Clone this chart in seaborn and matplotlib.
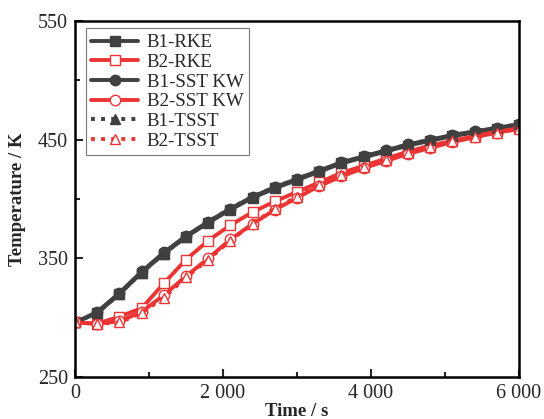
import numpy as np
import pandas as pd
import matplotlib
matplotlib.use('Agg')
import matplotlib.pyplot as plt
from matplotlib.ticker import FuncFormatter, MultipleLocator, FixedLocator
import seaborn as sns

# Data (every 300 s)
time_s = [0, 300, 600, 900, 1200, 1500, 1800, 2100, 2400, 2700, 3000,
          3300, 3600, 3900, 4200, 4500, 4800, 5100, 5400, 5700, 6000]
b1_rke = [296, 304, 320, 338, 354, 368, 380, 391, 401, 409, 416,
          423, 430, 435, 440, 445, 449, 453, 456, 459, 462]
b2_rke = [296, 295, 301, 308, 329, 349, 365, 378, 389, 398, 406,
          414, 422, 428, 434, 440, 445, 449, 453, 457, 460]
b1_sst = [296, 305, 321, 339, 355, 369, 381, 392, 402, 410, 417,
          424, 431, 436, 441, 446, 450, 454, 457, 460, 463]
b2_sst = [296, 295, 297, 305, 319, 335, 350, 366, 379, 391, 401,
          411, 419, 426, 432, 438, 443, 448, 452, 456, 459]
b1_tsst = [296, 304, 320, 338, 354, 368, 381, 392, 402, 410, 417,
           424, 430, 436, 441, 446, 450, 453, 457, 460, 463]
b2_tsst = [296, 295, 296, 304, 317, 334, 349, 365, 379, 392, 402,
           412, 420, 427, 433, 439, 444, 449, 452, 456, 459]

labels = ['B1-RKE', 'B2-RKE', 'B1-SST KW', 'B2-SST KW', 'B1-TSST', 'B2-TSST']
series = [b1_rke, b2_rke, b1_sst, b2_sst, b1_tsst, b2_tsst]

sns.set_style('ticks')
plt.rcParams['font.family'] = ['Liberation Serif', 'DejaVu Serif']

dark = '#404040'
red = '#ec3434'
styles = [
    dict(color=dark, marker='s', mfc=dark, ls='-'),
    dict(color=red, marker='s', mfc='white', ls='-'),
    dict(color=dark, marker='o', mfc=dark, ls='-'),
    dict(color=red, marker='o', mfc='white', ls='-'),
    dict(color=dark, marker='^', mfc=dark, ls=(0, (1, 1.6))),
    dict(color=red, marker='^', mfc='white', ls=(0, (1, 1.6))),
]

fig = plt.figure(figsize=(5.44, 4.19), dpi=100)
ax = fig.add_axes([0.138, 0.100, 0.816, 0.850])

for lab, vals, st in zip(labels, series, styles):
    df = pd.DataFrame({'t': time_s, 'T': vals})
    sns.lineplot(data=df, x='t', y='T', ax=ax, label=lab,
                 color=st['color'], marker=st['marker'],
                 markerfacecolor=st['mfc'], markeredgecolor=st['color'],
                 markeredgewidth=1.0, markersize=7.5, linewidth=2.8,
                 linestyle=st['ls'])

ax.set_xlim(0, 6000)
ax.set_ylim(250, 550)
ax.xaxis.set_major_locator(MultipleLocator(2000))
ax.xaxis.set_minor_locator(MultipleLocator(1000))
ax.yaxis.set_major_locator(FixedLocator([250, 350, 450, 550]))
ax.yaxis.set_minor_locator(FixedLocator([300, 400, 500]))
ax.xaxis.set_major_formatter(FuncFormatter(
    lambda v, p: f'{int(v):,}'.replace(',', ' ')))
ax.yaxis.set_major_formatter(FuncFormatter(lambda v, p: f'{int(v)}'))

ax.tick_params(axis='both', which='major', direction='in', length=6,
               width=1.5, labelsize=14.5, pad=5)
ax.tick_params(axis='both', which='minor', direction='in', length=3.5,
               width=1.5)
for sp in ax.spines.values():
    sp.set_linewidth(1.8)
    sp.set_color('black')

ax.set_xlabel('Time / s', fontsize=13.5, fontweight='bold', labelpad=0)
ax.set_ylabel('Temperature / K', fontsize=13.5, fontweight='bold', labelpad=9)

leg = ax.legend(loc='upper left', bbox_to_anchor=(0.015, 0.99),
                fontsize=13.6, frameon=True, fancybox=False,
                handlelength=2.5, handletextpad=0.45, labelspacing=0.13,
                borderpad=0.3, borderaxespad=0.2)
leg.get_frame().set_edgecolor('#555555')
leg.get_frame().set_linewidth(0.8)

fig.savefig('out.png', dpi=100)
